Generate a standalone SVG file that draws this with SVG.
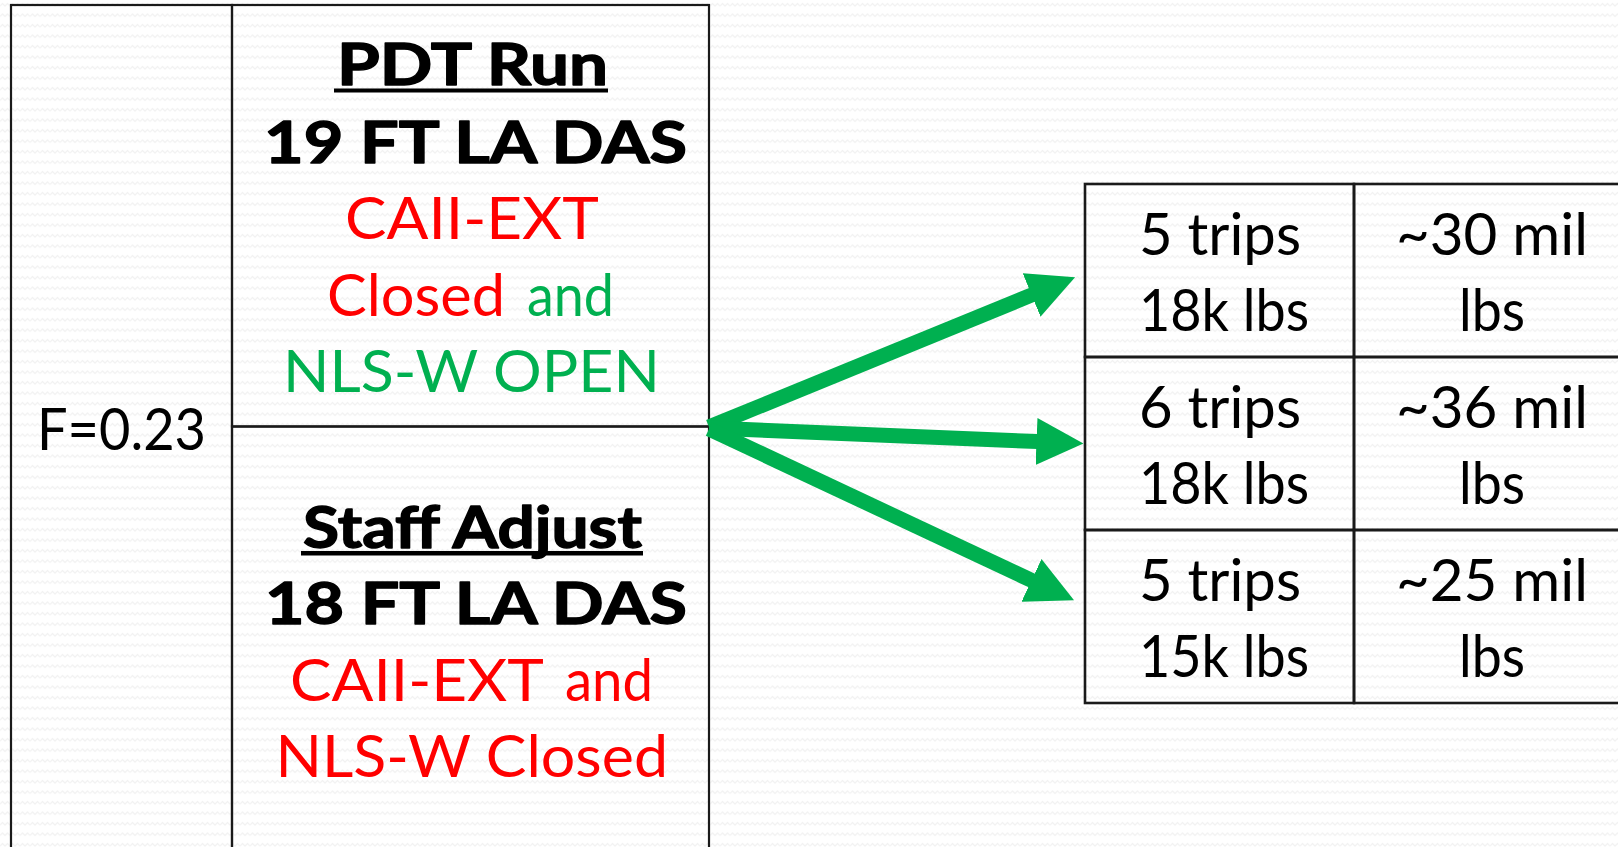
<svg xmlns="http://www.w3.org/2000/svg" width="1618" height="847" viewBox="0 0 1618 847">
<style>
.cell{fill:none;stroke:#1a1a1a;stroke-width:2.2}
.tcell{fill:none;stroke:#1a1a1a;stroke-width:2.6}
.t{font-family:"Lato","Liberation Sans",sans-serif;font-size:58px;fill:#000}
.b{font-weight:700;stroke:#000;stroke-width:1.4;stroke-linejoin:round}
.red{fill:#FF0000}
.grn{fill:#00B050}
.ul{fill:#000}
.arr{stroke:#00B050;stroke-width:15;fill:none;stroke-linecap:butt}
</style>
<defs>
<pattern id="bg" width="10" height="10.5" patternUnits="userSpaceOnUse">
<path d="M0,6 L2.5,3.5 L5,6 L7.5,3.5 L10,6" fill="none" stroke="#f1f1f1" stroke-width="1.2"/>
</pattern>
<marker id="head" markerUnits="userSpaceOnUse" markerWidth="48" markerHeight="48" refX="1" refY="23.5" orient="auto" viewBox="0 0 48 47">
<path d="M0,0 L47,23.5 L0,47 z" fill="#00B050"/>
</marker>
</defs>
<rect width="1618" height="847" fill="#fff"/>
<rect width="1618" height="847" fill="url(#bg)"/>

<g id="factor">
<rect class="cell" x="11" y="5" width="221" height="900"/>
<text class="t" x="37" y="450" textLength="169" lengthAdjust="spacingAndGlyphs">F=0.23</text>
</g>

<g id="pdt-run">
<rect class="cell" x="232" y="5" width="477" height="421.5"/>
<text class="t b" x="337" y="85" textLength="271" lengthAdjust="spacingAndGlyphs">PDT Run</text>
<rect class="ul" x="334" y="88.5" width="274" height="4"/>
<text class="t b" x="264" y="163" textLength="423" lengthAdjust="spacingAndGlyphs">19 FT LA DAS</text>
<text class="t red" x="345" y="239" textLength="254" lengthAdjust="spacingAndGlyphs">CAII-EXT</text>
<text class="t red" x="327" y="315.5" textLength="178" lengthAdjust="spacingAndGlyphs">Closed</text>
<text class="t grn" x="527" y="315.5" textLength="87" lengthAdjust="spacingAndGlyphs">and</text>
<text class="t grn" x="283" y="392" textLength="377" lengthAdjust="spacingAndGlyphs">NLS-W OPEN</text>
</g>

<g id="staff-adjust">
<rect class="cell" x="232" y="426.5" width="477" height="500"/>
<text class="t b" x="303" y="548" textLength="339" lengthAdjust="spacingAndGlyphs">Staff Adjust</text>
<rect class="ul" x="301" y="551" width="342" height="4.5"/>
<text class="t b" x="265" y="624" textLength="422" lengthAdjust="spacingAndGlyphs">18 FT LA DAS</text>
<text class="t red" x="290" y="701" textLength="254" lengthAdjust="spacingAndGlyphs">CAII-EXT</text>
<text class="t red" x="565" y="701" textLength="88" lengthAdjust="spacingAndGlyphs">and</text>
<text class="t red" x="275.5" y="777" textLength="392.5" lengthAdjust="spacingAndGlyphs">NLS-W Closed</text>
</g>

<g id="r1c1">
<rect class="tcell" x="1085" y="184" width="269" height="173"/>
<text class="t" x="1139" y="255" textLength="162" lengthAdjust="spacingAndGlyphs">5 trips</text>
<text class="t" x="1139" y="331" textLength="170" lengthAdjust="spacingAndGlyphs">18k lbs</text>
</g>
<g id="r1c2">
<rect class="tcell" x="1354" y="184" width="300" height="173"/>
<text class="t" x="1396" y="255" textLength="192" lengthAdjust="spacingAndGlyphs">~30 mil</text>
<text class="t" x="1459" y="331" textLength="66" lengthAdjust="spacingAndGlyphs">lbs</text>
</g>
<g id="r2c1">
<rect class="tcell" x="1085" y="357" width="269" height="173"/>
<text class="t" x="1139" y="428" textLength="162" lengthAdjust="spacingAndGlyphs">6 trips</text>
<text class="t" x="1139" y="504" textLength="170" lengthAdjust="spacingAndGlyphs">18k lbs</text>
</g>
<g id="r2c2">
<rect class="tcell" x="1354" y="357" width="300" height="173"/>
<text class="t" x="1396" y="428" textLength="192" lengthAdjust="spacingAndGlyphs">~36 mil</text>
<text class="t" x="1459" y="504" textLength="66" lengthAdjust="spacingAndGlyphs">lbs</text>
</g>
<g id="r3c1">
<rect class="tcell" x="1085" y="530" width="269" height="173"/>
<text class="t" x="1139" y="600.5" textLength="162" lengthAdjust="spacingAndGlyphs">5 trips</text>
<text class="t" x="1139" y="677" textLength="170" lengthAdjust="spacingAndGlyphs">15k lbs</text>
</g>
<g id="r3c2">
<rect class="tcell" x="1354" y="530" width="300" height="173"/>
<text class="t" x="1396" y="600.5" textLength="192" lengthAdjust="spacingAndGlyphs">~25 mil</text>
<text class="t" x="1459" y="677" textLength="66" lengthAdjust="spacingAndGlyphs">lbs</text>
</g>

<g id="connectors">
<line class="arr" x1="709" y1="427" x2="1032.5" y2="294.6" marker-end="url(#head)"/>
<line class="arr" x1="709" y1="428" x2="1037.5" y2="441.6" marker-end="url(#head)"/>
<line class="arr" x1="709" y1="429" x2="1032.4" y2="580.8" marker-end="url(#head)"/>
</g>
</svg>
